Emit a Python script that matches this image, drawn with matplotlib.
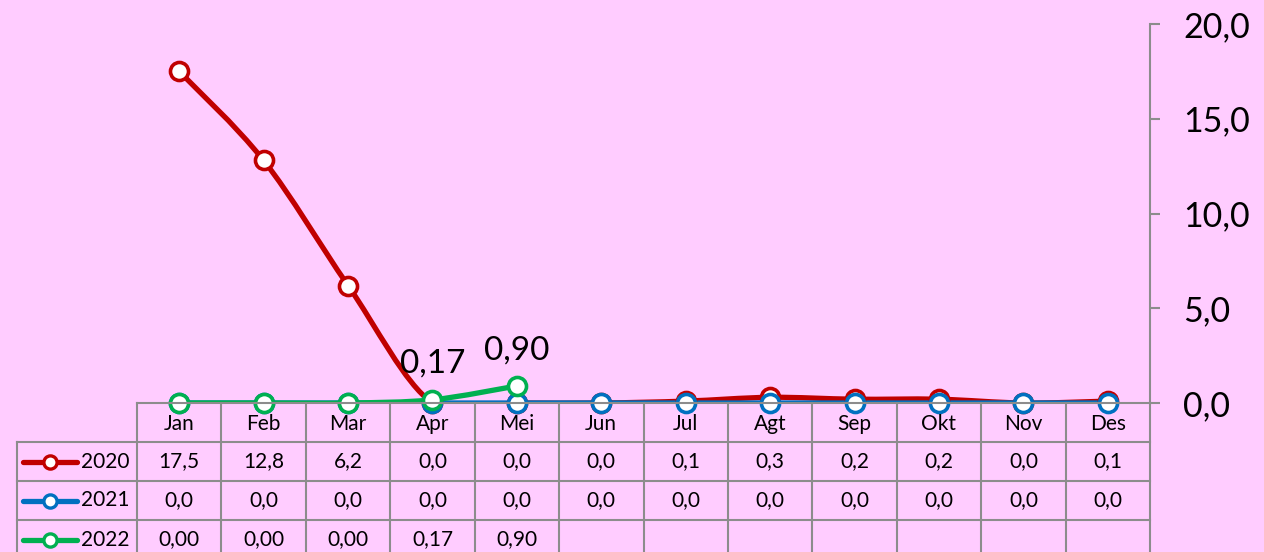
import matplotlib
matplotlib.use("Agg")
import matplotlib.pyplot as plt
from matplotlib.path import Path
from matplotlib.patches import PathPatch, Rectangle
from matplotlib.lines import Line2D
import numpy as np

months = ["Jan", "Feb", "Mar", "Apr", "Mei", "Jun", "Jul", "Agt", "Sep", "Okt", "Nov", "Des"]
series_names = ["2020", "2021", "2022"]
v2020 = [17.5, 12.8, 6.2, 0.0, 0.0, 0.0, 0.1, 0.3, 0.2, 0.2, 0.0, 0.1]
v2021 = [0.0] * 12
v2022 = [0.00, 0.00, 0.00, 0.17, 0.90]
table_fmt = ["{:.1f}", "{:.1f}", "{:.2f}"]
yticks = [0, 5, 10, 15, 20]
labelled_2022 = [3, 4]

colors = ["#C00000", "#0070C0", "#00B050"]
bg = "#FFCCFF"
grid = "#8C8C8C"
FONT = "Lato"

W, H = 1264, 552
fig = plt.figure(figsize=(W / 100, H / 100), dpi=100, facecolor=bg)

x0, x1 = 137, 1150
ytop, ybot = 24, 403
ax = fig.add_axes([x0 / W, 1 - ybot / H, (x1 - x0) / W, (ybot - ytop) / H])
ax.set_facecolor(bg)
ax.patch.set_alpha(0)
ax.set_xlim(-0.5, 11.5)
ax.set_ylim(0, 20)
for s in ["left", "top", "bottom"]:
    ax.spines[s].set_visible(False)
ax.spines["right"].set_color(grid)
ax.spines["right"].set_linewidth(1.5)
ax.yaxis.tick_right()
ax.set_yticks(yticks)
ax.set_yticklabels([f"{t:.1f}".replace(".", ",") for t in yticks], fontsize=24.5, family=FONT)
ax.tick_params(axis="y", direction="out", length=7, width=1.5, color=grid, pad=17)
ax.set_xticks([])


def smooth_path(xs, ys):
    xs = np.asarray(xs, float)
    ys = np.asarray(ys, float)
    pts = np.column_stack([xs, ys])
    n = len(pts)
    verts = [pts[0]]
    codes = [Path.MOVETO]
    for i in range(n - 1):
        p0 = pts[i - 1] if i > 0 else pts[i]
        p1 = pts[i]
        p2 = pts[i + 1]
        p3 = pts[i + 2] if i + 2 < n else pts[i + 1]
        c1 = p1 + (p2 - p0) / 6.0
        c2 = p2 - (p3 - p1) / 6.0
        verts += [c1, c2, p2]
        codes += [Path.CURVE4] * 3
    return Path(verts, codes)


clip_rect = Rectangle((-0.6, -0.05), 12.2, 21, transform=ax.transData, visible=False)
ax.add_patch(clip_rect)

all_series = [v2020, v2021, v2022]
for vals, c in zip(all_series, colors):
    xs = np.arange(len(vals))
    patch = PathPatch(smooth_path(xs, vals), facecolor="none", edgecolor=c, lw=3.8,
                      capstyle="round", joinstyle="round", zorder=3)
    ax.add_patch(patch)
    patch.set_clip_path(clip_rect)
    ax.plot(xs, vals, ls="none", marker="o", ms=13, mfc="white", mec=c, mew=2.6,
            clip_on=False, zorder=4)

for i in labelled_2022:
    ax.annotate(f"{v2022[i]:.2f}".replace(".", ","), (i, v2022[i]), xytext=(0, 15),
                textcoords="offset points", ha="center", va="bottom", fontsize=24,
                family=FONT, zorder=5)

# ---- data table ----
def fx(px):
    return px / W

def fy(py):
    return 1 - py / H

cw = (x1 - x0) / len(months)
row_h = 39
header_top = 403
rows_top = header_top + row_h
left_x = 17

lk = dict(color=grid, lw=1.5, transform=fig.transFigure, zorder=1)
fig.add_artist(Line2D([fx(x0), fx(x1)], [fy(header_top), fy(header_top)], **lk))
for r in range(3):
    yy = rows_top + r * row_h
    fig.add_artist(Line2D([fx(left_x), fx(x1)], [fy(yy), fy(yy)], **lk))
for i in range(len(months) + 1):
    xx = x0 + i * cw
    fig.add_artist(Line2D([fx(xx), fx(xx)], [fy(header_top), fy(H + 5)], **lk))
fig.add_artist(Line2D([fx(left_x), fx(left_x)], [fy(rows_top), fy(H + 5)], **lk))

TS = 15
for i, m in enumerate(months):
    fig.text(fx(x0 + (i + 0.5) * cw), fy(header_top + row_h / 2 + 1), m, ha="center",
             va="center", fontsize=TS, family=FONT)

for r, (name, vals, c, f) in enumerate(zip(series_names, all_series, colors, table_fmt)):
    yc = rows_top + r * row_h + row_h / 2
    fig.add_artist(Line2D([fx(23), fx(77)], [fy(yc), fy(yc)], color=c, lw=3.8,
                          solid_capstyle="round", transform=fig.transFigure, zorder=2))
    fig.add_artist(Line2D([fx(50)], [fy(yc)], ls="none", marker="o", ms=9.5, mfc="white",
                          mec=c, mew=2.4, transform=fig.transFigure, zorder=3))
    fig.text(fx(81), fy(yc), name, ha="left", va="center", fontsize=TS, family=FONT)
    for i, v in enumerate(vals):
        fig.text(fx(x0 + (i + 0.5) * cw), fy(yc), f.format(v).replace(".", ","),
                 ha="center", va="center", fontsize=TS, family=FONT)

fig.savefig("out.png", dpi=100, facecolor=bg)
